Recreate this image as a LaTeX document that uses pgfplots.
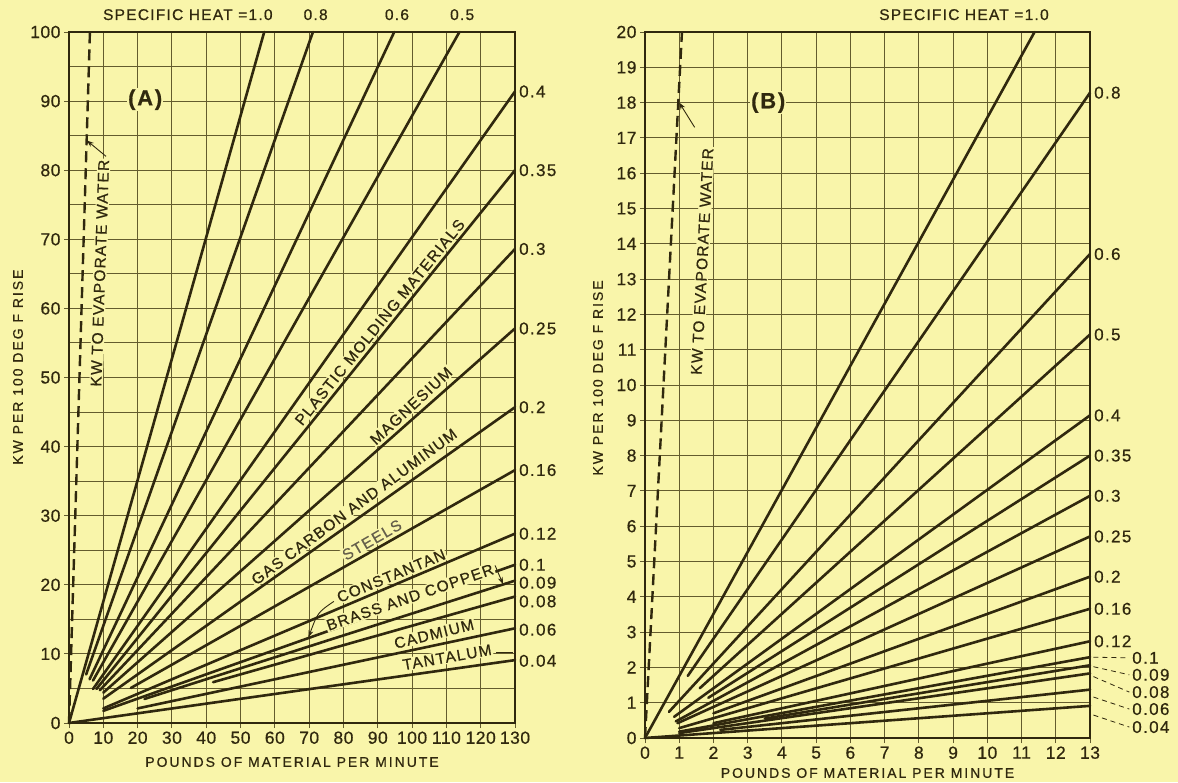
\documentclass[border=0pt]{standalone}
\usepackage{fontspec}
\setmainfont{Liberation Sans}[LetterSpace=8,FakeBold=0.6]
\newfontfamily\wide{Liberation Sans}[LetterSpace=14,FakeBold=0.6]
\newfontfamily\tickf{Liberation Sans}[LetterSpace=3,FakeBold=0.6]
\usepackage{pgfplots}
\pgfplotsset{compat=1.18}
\usetikzlibrary{arrows.meta}
\definecolor{bg}{RGB}{249,245,170}
\definecolor{ink}{RGB}{48,40,14}
\definecolor{gridc}{RGB}{100,92,46}
\newcommand{\fs}[1]{\fontsize{#1}{#1}\selectfont}
\pgfplotscreateplotcyclelist{inklines}{draw=ink,line width=2.6pt,line cap=round,solid,mark=none\\}
\pgfplotsset{panel/.style={
  scale only axis, clip=false, anchor=south west,
  axis line style={draw=ink,line width=1.6pt},
  grid=both,
  major grid style={draw=gridc,line width=0.9pt},
  minor grid style={draw=gridc,line width=0.9pt},
  tick pos=left, tick align=outside,
  major tick length=5pt, minor tick length=0pt,
  every tick/.style={draw=gridc,line width=0.9pt},
  tick label style={font=\tickf\fs{17.5}, text=ink},
  /pgf/number format/assume math mode=true,
  cycle list name=inklines,
  },
  wdash/.style={draw=ink, line width=2.4pt, dash pattern=on 11pt off 6pt, mark=none}}
\tikzset{
  lab/.style={font=\fs{15.5}, text=ink, fill=bg, inner sep=1.2pt},
  rl/.style={anchor=west, font=\fs{17}, text=ink, xshift=3pt, inner sep=1pt},
  tl/.style={anchor=base, font=\fs{15.5}, text=ink, yshift=12pt, inner sep=0pt},
  arr/.style={draw=ink, line width=0.9pt, -{Stealth[length=7pt,width=5pt]}},
}
\begin{document}
\begin{tikzpicture}[x=1pt,y=1pt]
\path[use as bounding box, fill=bg] (0,0) rectangle (1178,782);
%================ PANEL A ================
\begin{axis}[panel, at={(69pt,59pt)}, width=446pt, height=691pt,
  xmin=0, xmax=130, ymin=0, ymax=100,
  xtick={0,10,...,130}, ytick={0,10,...,100}, minor ytick={5,15,...,95}]
\addplot coordinates {(0,0) (56.9,100)};
\addplot coordinates {(5,7.03) (71.1,100)};
\addplot coordinates {(6,6.33) (94.8,100)};
\addplot coordinates {(7,6.15) (113.8,100)};
\addplot coordinates {(7,4.92) (130,91.4)};
\addplot coordinates {(8,4.92) (130,80.0)};
\addplot coordinates {(9,4.75) (130,68.6)};
\addplot coordinates {(10,4.40) (130,57.1)};
\addplot coordinates {(10,3.52) (130,45.7)};
\addplot coordinates {(18,5.06) (130,36.6)};
\addplot coordinates {(10,2.11) (130,27.4)};
\addplot coordinates {(10,1.76) (130,22.9)};
\addplot coordinates {(22,3.48) (130,20.6)};
\addplot coordinates {(42,5.91) (130,18.3)};
\addplot coordinates {(20,2.11) (130,13.7)};
\addplot coordinates {(0,0) (130,9.1)};
\addplot[wdash] coordinates {(0,0) (6.1,100)};
% top labels
\node[tl, anchor=base east] at (axis cs:59.4,100) {SPECIFIC HEAT =1.0};
\node[tl] at (axis cs:71.9,100) {0.8};
\node[tl] at (axis cs:95.6,100) {0.6};
\node[tl] at (axis cs:114.6,100) {0.5};
% right labels
\node[rl] at (axis cs:130,91.4) {0.4};
\node[rl] at (axis cs:130,80.0) {0.35};
\node[rl] at (axis cs:130,68.6) {0.3};
\node[rl] at (axis cs:130,57.1) {0.25};
\node[rl] at (axis cs:130,45.7) {0.2};
\node[rl] at (axis cs:130,36.6) {0.16};
\node[rl] at (axis cs:130,27.4) {0.12};
\node[rl] at (axis cs:130,22.9) {0.1};
\node[rl] at (axis cs:130,20.3) {0.09};
\node[rl] at (axis cs:130,17.6) {0.08};
\node[rl] at (axis cs:130,13.5) {0.06};
\node[rl] at (axis cs:130,9.0) {0.04};
% material labels
\node[lab, rotate=51] at (axis cs:90.6,58.0) {PLASTIC MOLDING MATERIALS};
\node[lab, rotate=43] at (axis cs:99.7,45.9) {MAGNESIUM};
\node[lab, rotate=36.5] at (axis cs:83.1,31.3) {GAS CARBON AND ALUMINUM};
\node[lab, rotate=30, text=ink!75] at (axis cs:88.3,26.5) {STEELS};
\node[lab, rotate=22.5] at (axis cs:93.9,21.3) {CONSTANTAN};
\node[lab, rotate=19] at (axis cs:99.4,18.2) {BRASS AND COPPER};
\node[lab, rotate=14] at (axis cs:106.4,12.9) {CADMIUM};
\node[lab, rotate=10] at (axis cs:110.2,9.5) {TANTALUM};
\draw[draw=ink, line width=0.9pt] (axis cs:124.6,10.2) -- (axis cs:129.3,10.2);
\draw[arr] (axis cs:77.2,17.6) .. controls (axis cs:72.5,16.0) .. (axis cs:69.8,12.4);
\draw[arr] (axis cs:124.2,22.8) -- (axis cs:126.5,20.1);
\node[lab, font=\bfseries\fs{22}] at (axis cs:22.2,90.2) {(A)};
\node[lab, rotate=88] at (axis cs:9.0,65.1) {KW TO EVAPORATE WATER};
\draw[arr] (axis cs:10.8,82.0) -- (axis cs:5.2,84.3);
% axis titles
\node[font=\wide\fs{14}, text=ink] at ([yshift=-39pt]rel axis cs:0.5,0) {POUNDS OF MATERIAL PER MINUTE};
\node[font=\wide\fs{14}, text=ink, rotate=90] at ([xshift=-51pt]rel axis cs:0,0.515) {KW PER 100 DEG F RISE};
\end{axis}
%================ PANEL B ================
\begin{axis}[panel, at={(645pt,44pt)}, width=445pt, height=706pt,
  xmin=0, xmax=13, ymin=0, ymax=20,
  xtick={0,1,...,13}, ytick={0,1,...,20}]
\addplot coordinates {(0,0) (11.38,20)};
\addplot coordinates {(1.25,1.76) (13,18.28)};
\addplot coordinates {(0.7,0.74) (13,13.71)};
\addplot coordinates {(1.6,1.41) (13,11.43)};
\addplot coordinates {(0.85,0.60) (13,9.14)};
\addplot coordinates {(1.85,1.14) (13,8.0)};
\addplot coordinates {(0.9,0.47) (13,6.86)};
\addplot coordinates {(0.95,0.42) (13,5.71)};
\addplot coordinates {(2.0,0.70) (13,4.57)};
\addplot coordinates {(1.0,0.28) (13,3.66)};
\addplot coordinates {(2.0,0.42) (13,2.74)};
\addplot coordinates {(1.0,0.18) (13,2.29)};
\addplot coordinates {(3.5,0.55) (13,2.06)};
\addplot coordinates {(1.0,0.14) (13,1.83)};
\addplot coordinates {(2.2,0.23) (13,1.37)};
\addplot coordinates {(0,0) (13,0.91)};
\addplot[wdash] coordinates {(0,0) (1.08,20)};
\node[tl, anchor=base east] at (axis cs:11.8,20) {SPECIFIC HEAT =1.0};
\node[rl] at (axis cs:13,18.28) {0.8};
\node[rl] at (axis cs:13,13.71) {0.6};
\node[rl] at (axis cs:13,11.43) {0.5};
\node[rl] at (axis cs:13,9.14) {0.4};
\node[rl] at (axis cs:13,8.0) {0.35};
\node[rl] at (axis cs:13,6.86) {0.3};
\node[rl] at (axis cs:13,5.71) {0.25};
\node[rl] at (axis cs:13,4.57) {0.2};
\node[rl] at (axis cs:13,3.66) {0.16};
\node[rl] at (axis cs:13,2.74) {0.12};
\draw[draw=ink, line width=0.8pt, dash pattern=on 5pt off 4pt] (axis cs:13.1,2.29) -- (axis cs:14.15,2.27);
\draw[draw=ink, line width=0.8pt, dash pattern=on 5pt off 4pt] (axis cs:13.1,2.02) -- (axis cs:14.15,1.79);
\draw[draw=ink, line width=0.8pt, dash pattern=on 5pt off 4pt] (axis cs:13.1,1.74) -- (axis cs:14.15,1.30);
\draw[draw=ink, line width=0.8pt, dash pattern=on 5pt off 4pt] (axis cs:13.1,1.16) -- (axis cs:14.15,0.82);
\draw[draw=ink, line width=0.8pt, dash pattern=on 5pt off 4pt] (axis cs:13.1,0.65) -- (axis cs:14.15,0.31);
\node[rl, xshift=-3pt] at (axis cs:14.2,2.27) {0.1};
\node[rl, xshift=-3pt] at (axis cs:14.2,1.79) {0.09};
\node[rl, xshift=-3pt] at (axis cs:14.2,1.30) {0.08};
\node[rl, xshift=-3pt] at (axis cs:14.2,0.82) {0.06};
\node[rl, xshift=-3pt] at (axis cs:14.2,0.31) {0.04};
\node[lab, font=\bfseries\fs{22}] at (axis cs:3.6,18.0) {(B)};
\node[lab, rotate=87] at (axis cs:1.67,13.5) {KW TO EVAPORATE WATER};
\draw[arr] (axis cs:1.45,17.3) -- (axis cs:1.0,18.0);
\node[font=\wide\fs{14}, text=ink] at ([yshift=-35pt]rel axis cs:0.5,0) {POUNDS OF MATERIAL PER MINUTE};
\node[font=\wide\fs{14}, text=ink, rotate=90] at ([xshift=-47pt]rel axis cs:0,0.51) {KW PER 100 DEG F RISE};
\end{axis}
\end{tikzpicture}
\end{document}
